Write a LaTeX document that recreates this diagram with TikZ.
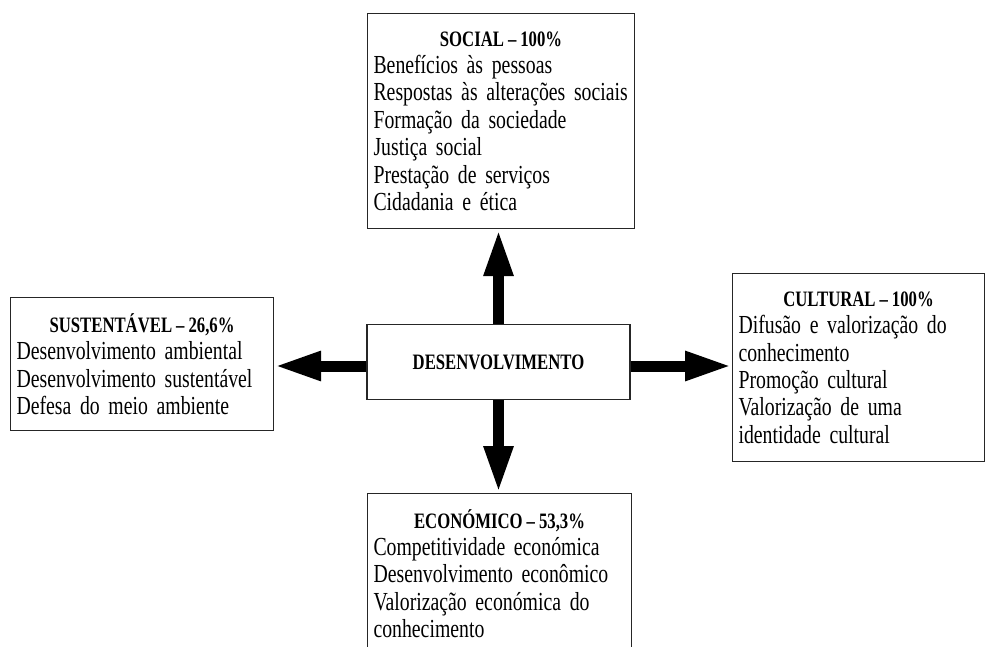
\documentclass[tikz,border=0pt]{standalone}
\usepackage{fontspec}
\setmainfont{Liberation Serif}[FakeStretch=0.76]
\usetikzlibrary{arrows.meta}
\setlength{\parindent}{0pt}
\hyphenpenalty=10000
\exhyphenpenalty=10000
\newcommand{\bodyfont}{\fontsize{26}{27.4}\selectfont\spaceskip=4.6pt plus 2pt minus 1pt}
\newcommand{\ttlfont}{\fontsize{22}{27.4}\selectfont\bfseries\spaceskip=4pt plus 2pt minus 1pt}
\newcommand{\boxtitle}[1]{{\centering\ttlfont #1\par}}

\begin{document}
\begin{tikzpicture}[
    x=1pt, y=-1pt,
    box/.style={rectangle, draw=black!85, line width=1.1pt, inner xsep=6pt, inner ysep=0pt,
                anchor=north west, align=left, font=\bodyfont},
    arr/.style={-{Triangle[length=47pt, width=27pt]}, line width=11pt, color=black}
  ]
    \useasboundingbox (0,0) rectangle (985,647);
    \clip (0,0) rectangle (985,647);

    \node[box, text width=255pt, minimum height=215pt] (social) at (367,13) {%
      \boxtitle{SOCIAL -- 100\%}
      Benefícios às pessoas\\
      Respostas às alterações sociais\\
      Formação da sociedade\\
      Justiça social\\
      Prestação de serviços\\
      Cidadania e ética};

    \node[box, text width=251pt, minimum height=133pt] (sust) at (10,297) {%
      \boxtitle{SUSTENTÁVEL -- 26,6\%}
      Desenvolvimento ambiental\\
      Desenvolvimento sustentável\\
      Defesa do meio ambiente};

    \node[box, text width=240pt, minimum height=188pt] (cultural) at (732,273) {%
      \boxtitle{CULTURAL -- 100\%}
      Difusão e valorização do\\
      conhecimento\\
      Promoção cultural\\
      Valorização de uma\\
      identidade cultural};

    \node[box, text width=252pt, minimum height=160pt] (econ) at (367,493) {%
      \boxtitle{ECONÓMICO -- 53,3\%}
      Competitividade económica\\
      Desenvolvimento econômico\\
      Valorização económica do\\
      conhecimento};

    \node[box, anchor=center, align=center, minimum width=263pt, minimum height=75pt,
          font=\ttlfont] (desenv) at (498.5,362) {DESENVOLVIMENTO};

    \draw[arr] (desenv.north) -- (desenv.north |- social.south);
    \draw[arr] (desenv.south) -- (desenv.south |- econ.north);
    \draw[arr] ([yshift=-4pt]desenv.west) -- ([yshift=-4pt]desenv.west -| sust.east);
    \draw[arr] ([yshift=-4pt]desenv.east) -- ([yshift=-4pt]desenv.east -| cultural.west);
  \end{tikzpicture}
\end{document}
